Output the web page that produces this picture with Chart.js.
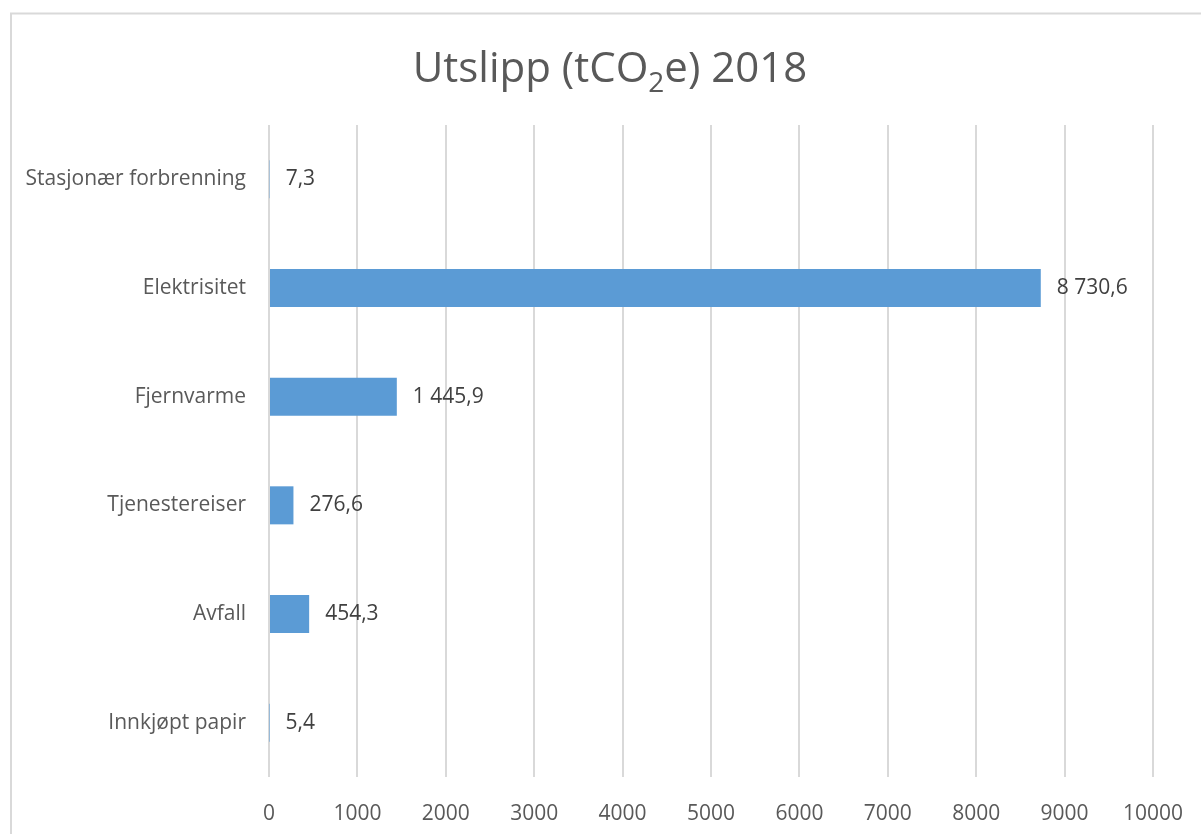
<!DOCTYPE html>
<html>
<head>
<meta charset="utf-8">
<script src="https://cdn.jsdelivr.net/npm/chart.js@4.4.1/dist/chart.umd.min.js"></script>
<style>
  html, body { margin: 0; padding: 0; background: #ffffff; }
  #wrap { position: relative; width: 1201px; height: 834px; }
  canvas { display: block; }
</style>
</head>
<body>
<div id="wrap"><canvas id="c" width="1201" height="834"></canvas></div>
<script>
const categories = ["Stasjonær forbrenning", "Elektrisitet", "Fjernvarme", "Tjenestereiser", "Avfall", "Innkjøpt papir"];
const emissions = [7.3, 8730.6, 1445.9, 276.6, 454.3, 5.4];
const xTicks = [0, 1000, 2000, 3000, 4000, 5000, 6000, 7000, 8000, 9000, 10000];
const titleParts = ["Utslipp (tCO", "2", "e) 2018"];

const FONT = "'Open Sans', 'Liberation Sans', sans-serif";

function fmtNo(v) {
  const parts = v.toFixed(1).split(".");
  const intPart = parts[0].replace(/\B(?=(\d{3})+(?!\d))/g, " ");
  return intPart + "," + parts[1];
}

const framePlugin = {
  id: "frame",
  beforeDraw(chart) {
    const ctx = chart.ctx;
    ctx.save();
    ctx.fillStyle = "#ffffff";
    ctx.fillRect(0, 0, chart.width, chart.height);
    ctx.strokeStyle = "#d9d9d9";
    ctx.lineWidth = 2;
    ctx.beginPath();
    ctx.moveTo(11, chart.height + 5);
    ctx.lineTo(11, 13.5);
    ctx.lineTo(chart.width + 5, 13.5);
    ctx.stroke();
    ctx.restore();
  }
};

const titlePlugin = {
  id: "subTitle",
  afterDraw(chart) {
    const ctx = chart.ctx;
    ctx.save();
    const big = "42px " + FONT;
    const small = "28px " + FONT;
    ctx.font = big;
    const w0 = ctx.measureText(titleParts[0]).width;
    const w2 = ctx.measureText(titleParts[2]).width;
    ctx.font = small;
    const w1 = ctx.measureText(titleParts[1]).width;
    const total = w0 + w1 + w2;
    let x = 610 - total / 2;
    const base = 82;
    ctx.fillStyle = "#595959";
    ctx.textBaseline = "alphabetic";
    ctx.textAlign = "left";
    ctx.font = big;
    ctx.fillText(titleParts[0], x, base);
    x += w0;
    ctx.font = small;
    ctx.fillText(titleParts[1], x, base + 10);
    x += w1;
    ctx.font = big;
    ctx.fillText(titleParts[2], x, base);
    ctx.restore();
  }
};

const labelPlugin = {
  id: "valueLabels",
  afterDatasetsDraw(chart) {
    const ctx = chart.ctx;
    const meta = chart.getDatasetMeta(0);
    ctx.save();
    ctx.font = "21px " + FONT;
    ctx.fillStyle = "#404040";
    ctx.textAlign = "left";
    ctx.textBaseline = "middle";
    meta.data.forEach((bar, i) => {
      ctx.fillText(fmtNo(emissions[i]), bar.x + 16, bar.y);
    });
    ctx.restore();
  }
};

new Chart(document.getElementById("c"), {
  type: "bar",
  data: {
    labels: categories,
    datasets: [{
      data: emissions,
      backgroundColor: "#5b9bd5",
      borderWidth: 0,
      barPercentage: 0.7,
      categoryPercentage: 0.5
    }]
  },
  options: {
    indexAxis: "y",
    responsive: false,
    animation: false,
    devicePixelRatio: 1,
    layout: { padding: { left: 0, right: 48, top: 125, bottom: 0 } },
    plugins: {
      legend: { display: false },
      title: { display: false },
      tooltip: { enabled: false }
    },
    scales: {
      x: {
        min: 0,
        max: 10000,
        afterBuildTicks(axis) { axis.ticks = xTicks.map(v => ({ value: v })); },
        grid: { color: "#d9d9d9", lineWidth: 2, drawTicks: false },
        border: { display: false },
        ticks: {
          color: "#595959",
          font: { family: FONT, size: 21 },
          padding: 24,
          maxRotation: 0,
          autoSkip: false,
          callback: v => String(v)
        },
        afterFit(axis) { axis.height = 57; axis.paddingLeft = 0; axis.paddingRight = 0; }
      },
      y: {
        grid: { display: false, drawTicks: false },
        border: { display: false },
        ticks: {
          color: "#595959",
          font: { family: FONT, size: 21 },
          padding: 23,
          autoSkip: false
        },
        afterFit(axis) { axis.width = 269; axis.paddingTop = 0; axis.paddingBottom = 0; }
      }
    }
  },
  plugins: [framePlugin, titlePlugin, labelPlugin]
});
</script>
</body>
</html>
